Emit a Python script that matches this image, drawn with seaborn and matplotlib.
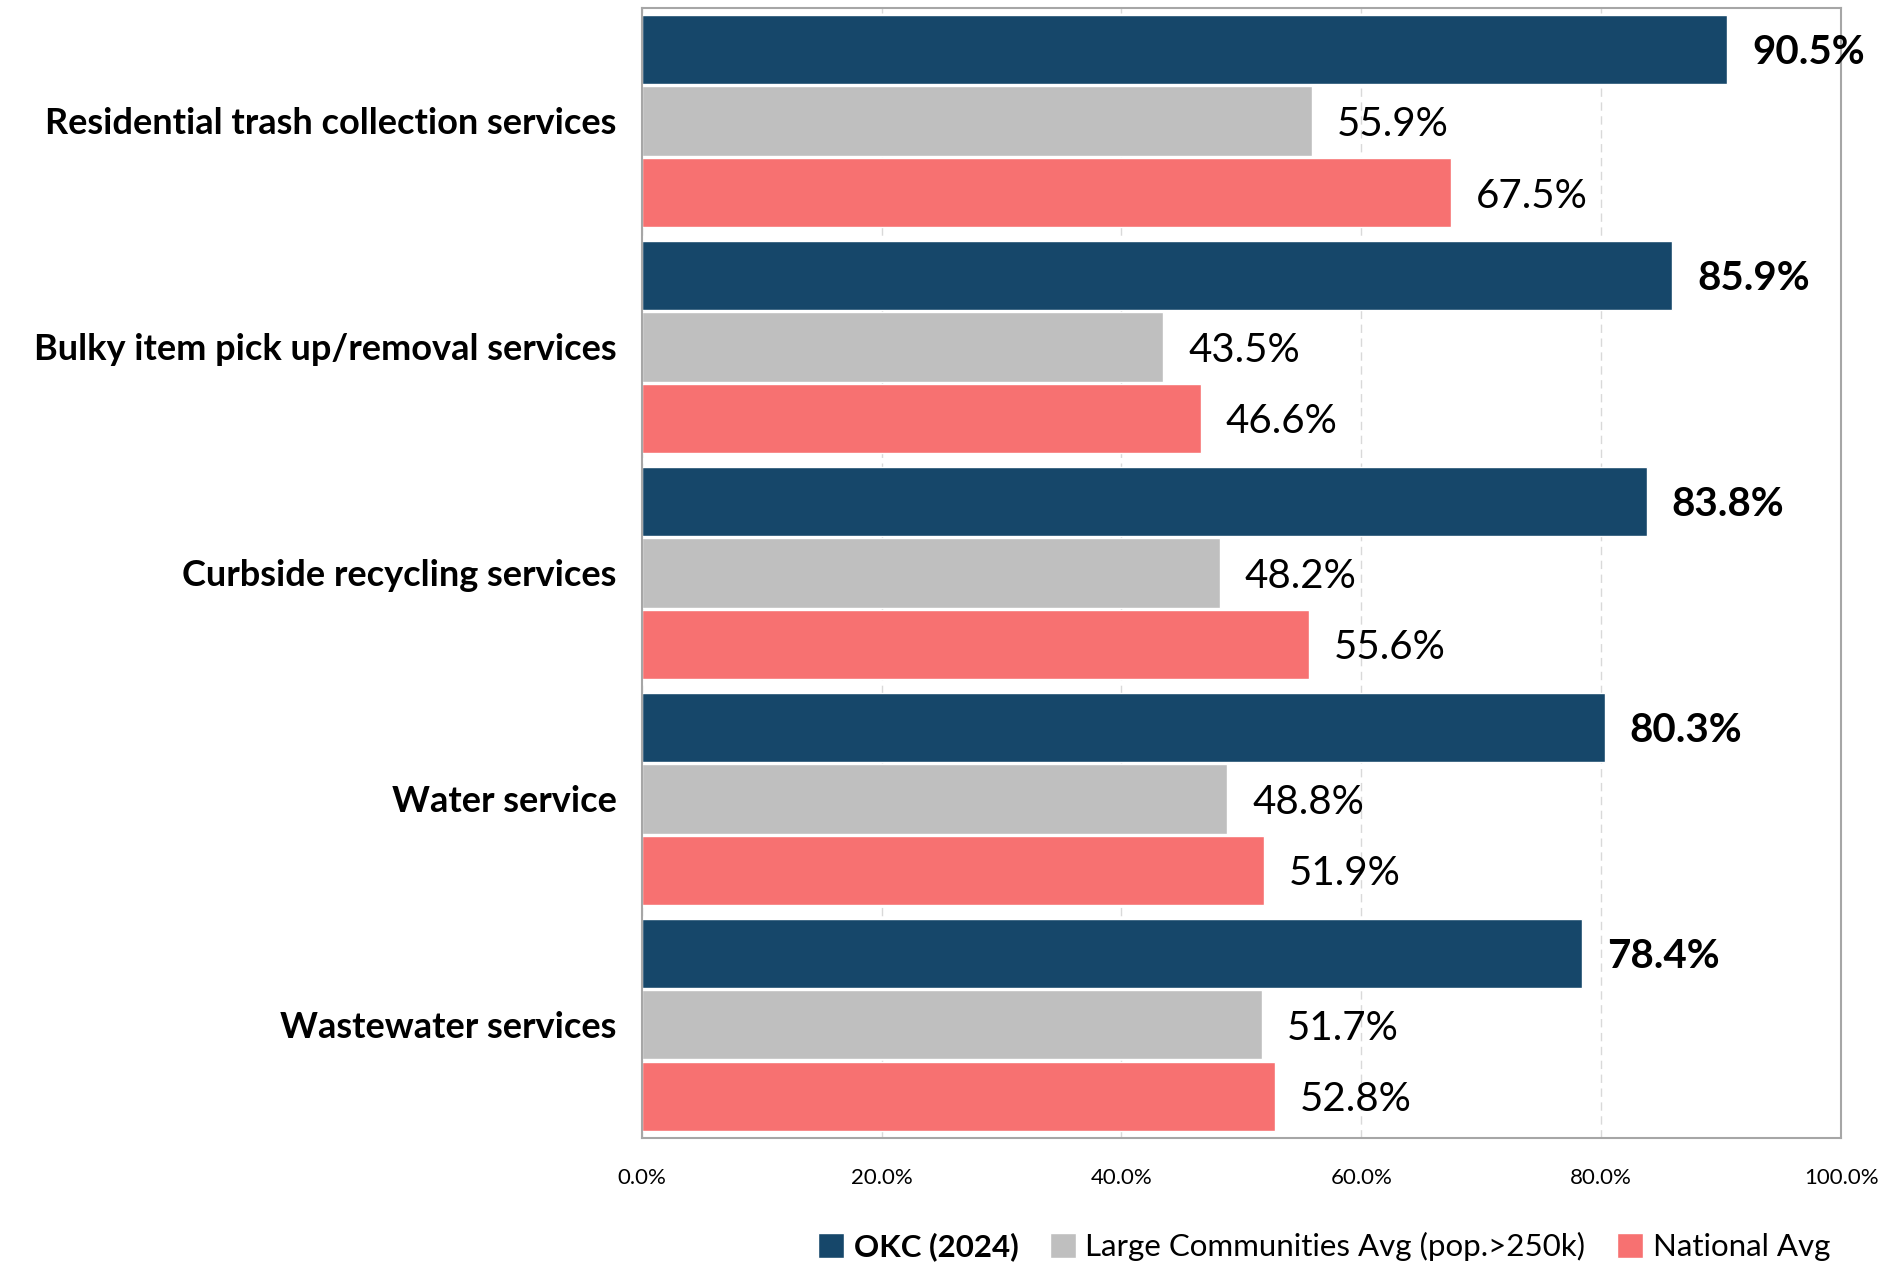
import pandas as pd
import numpy as np
import matplotlib
matplotlib.use("Agg")
import matplotlib.pyplot as plt
import seaborn as sns
from matplotlib.ticker import PercentFormatter

services = ['Residential trash collection services',
            'Bulky item pick up/removal services',
            'Curbside recycling services',
            'Water service',
            'Wastewater services']
series = ['OKC (2024)', 'Large Communities Avg (pop.>250k)', 'National Avg']
okc = [90.5, 85.9, 83.8, 80.3, 78.4]
large = [55.9, 43.5, 48.2, 48.8, 51.7]
national = [67.5, 46.6, 55.6, 51.9, 52.8]
colors = ['#16476A', '#BFBFBF', '#F77171']

df = pd.DataFrame({
    'Service': services * 3,
    'Group': np.repeat(series, len(services)),
    'Value': okc + large + national,
})

sns.set_theme(style='white')
plt.rcParams['font.family'] = ['Lato', 'DejaVu Sans']
plt.rcParams['text.color'] = 'black'
plt.rcParams['xtick.color'] = 'black'
plt.rcParams['ytick.color'] = 'black'

fig = plt.figure(figsize=(19.04, 12.67), dpi=100)
ax = fig.add_axes([0.337, 0.102, 0.630, 0.8917])

sns.barplot(data=df, x='Value', y='Service', hue='Group', orient='h',
            palette=colors, width=0.95, gap=0.03, saturation=1,
            ax=ax, legend=True)

# value labels, OKC in bold
for i, cont in enumerate(ax.containers):
    txts = ax.bar_label(cont, fmt='%.1f%%', padding=18, fontsize=29,
                        fontweight='bold' if i == 0 else 'normal', color='black')
    for t in txts:
        t.set_va('center_baseline')

ax.set_xlim(0, 100)
ax.set_ylim(4.5, -0.5)
ax.set_xticks(np.arange(0, 101, 20))
ax.xaxis.set_major_formatter(PercentFormatter(decimals=1))
ax.tick_params(axis='x', labelsize=16, length=0, pad=22)
ax.tick_params(axis='y', labelsize=26, length=0, pad=18)
for lab in ax.get_yticklabels():
    lab.set_fontweight('bold')
ax.set_xlabel('')
ax.set_ylabel('')
ax.grid(axis='x', color='#D9D9D9', linestyle=(0, (6, 4)), linewidth=1)
ax.set_axisbelow(True)
for s in ax.spines.values():
    s.set_color('#A6A6A6')
    s.set_linewidth(1.5)

handles, labels = ax.get_legend_handles_labels()
ax.legend_.remove()
leg = fig.legend(handles, labels, loc='center right', bbox_to_anchor=(0.976, 0.016),
                 ncol=3, frameon=False, fontsize=22.5, handlelength=0.85, handleheight=0.85,
                 handletextpad=0.3, columnspacing=1.0)
leg.get_texts()[0].set_fontweight('bold')

fig.savefig('out.png', dpi=100)
